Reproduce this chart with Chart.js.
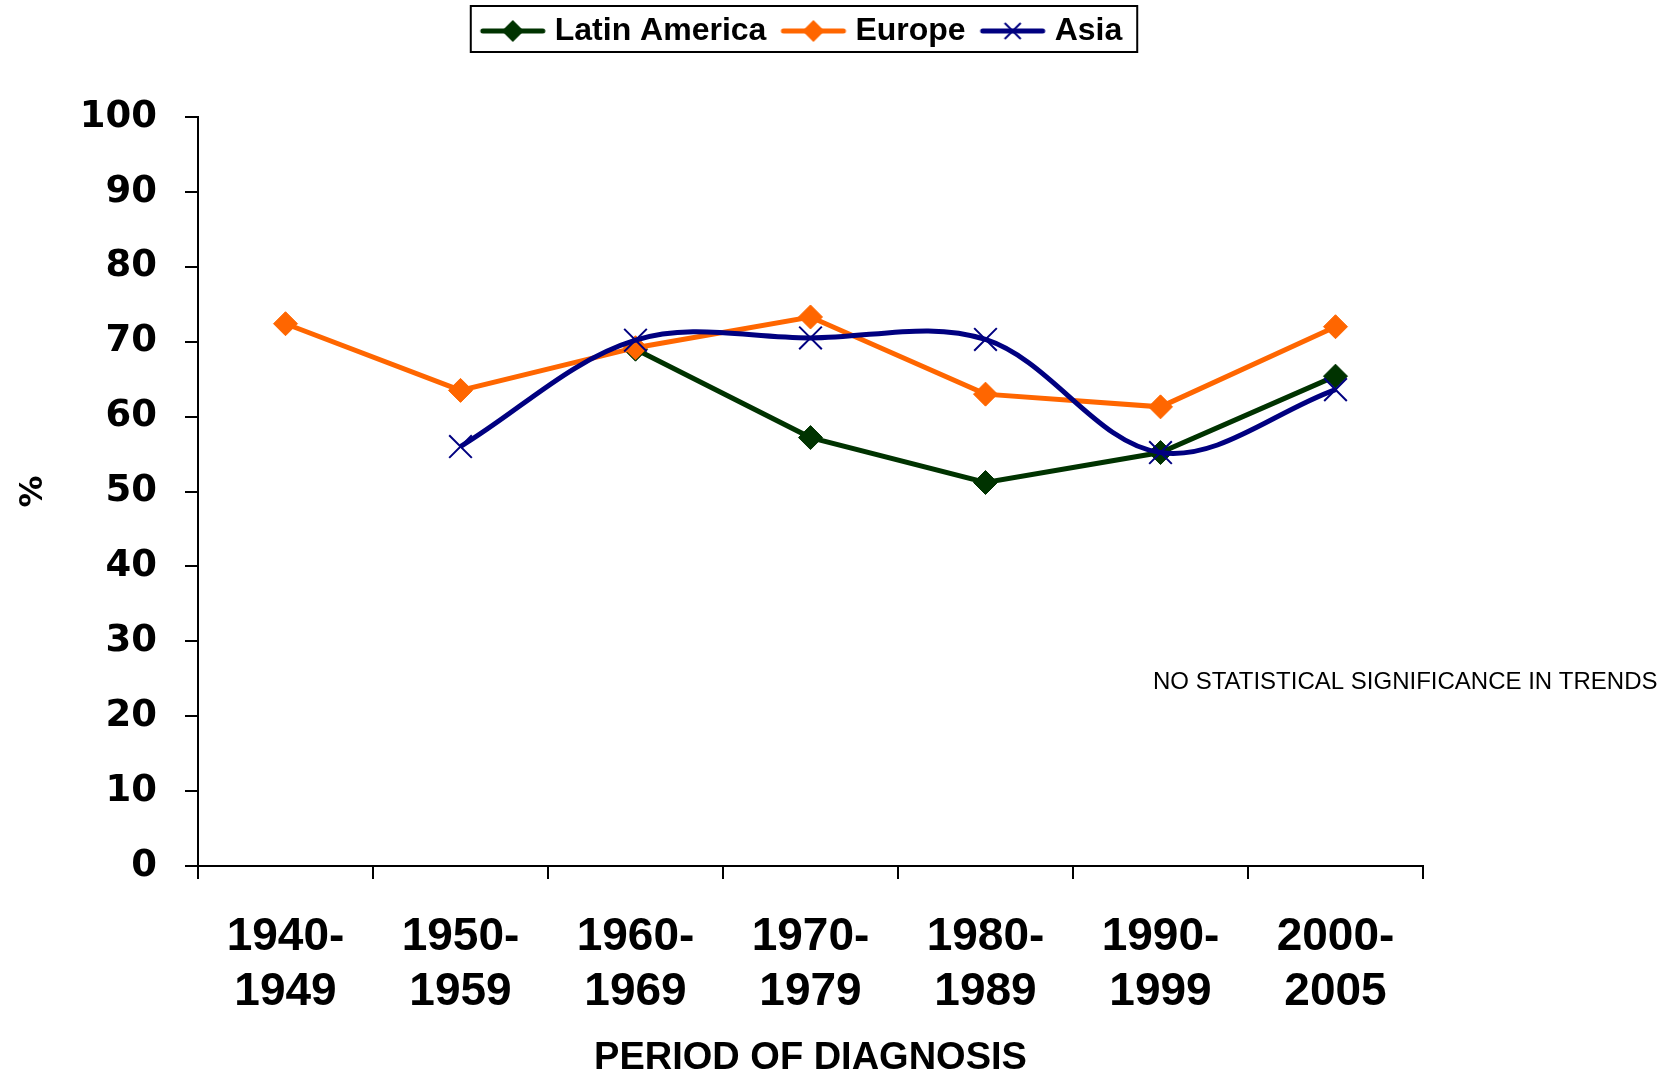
<!DOCTYPE html>
<html>
<head>
<meta charset="utf-8">
<script src="https://cdn.jsdelivr.net/npm/chart.js@4.4.1/dist/chart.umd.min.js"></script>
<style>
  html, body { margin: 0; padding: 0; background: #fff; }
  #wrap { width: 1678px; height: 1074px; }
</style>
</head>
<body>
<div id="wrap"><canvas id="chart" width="1678" height="1074"></canvas></div>
<script>
// values (% by period of diagnosis)
const periods = [
  ['1940-', '1949'], ['1950-', '1959'], ['1960-', '1969'], ['1970-', '1979'],
  ['1980-', '1989'], ['1990-', '1999'], ['2000-', '2005'],
];
const latinAmerica = [null, null, 69.0, 57.2, 51.2, 55.2, 65.4];
const europe = [72.4, 63.5, 69.2, 73.3, 63.0, 61.3, 72.0];
const asia = [null, 56.0, 70.2, 70.5, 70.3, 55.2, 63.6];
const seriesNames = ['Latin America', 'Europe', 'Asia'];
const yMin = 0;
const yMax = 100;
const yStep = 10;

const GREEN = '#003300';
const ORANGE = '#FF6600';
const NAVY = '#000080';
const WIDE = "'DejaVu Sans', Verdana, sans-serif";

Chart.defaults.font.family = "'Liberation Sans', Arial, sans-serif";
Chart.defaults.color = '#000';

// little line+marker pictures for the legend (line sits a bit right of centre
// so it ends close to the label text)
function legendSample(color, marker) {
  const c = document.createElement('canvas');
  c.width = 80;
  c.height = 26;
  const g = c.getContext('2d');
  const mid = 44;
  g.strokeStyle = color;
  g.lineWidth = 5;
  g.lineCap = 'round';
  g.beginPath();
  g.moveTo(14, 13);
  g.lineTo(74, 13);
  g.stroke();
  if (marker === 'diamond') {
    g.fillStyle = color;
    g.beginPath();
    g.moveTo(mid, 2);
    g.lineTo(mid + 11, 13);
    g.lineTo(mid, 24);
    g.lineTo(mid - 11, 13);
    g.closePath();
    g.fill();
  } else {
    g.lineWidth = 2;
    g.lineCap = 'butt';
    g.beginPath();
    g.moveTo(mid - 8, 5);
    g.lineTo(mid + 8, 21);
    g.moveTo(mid + 8, 5);
    g.lineTo(mid - 8, 21);
    g.stroke();
  }
  return c;
}
const samples = [
  legendSample(GREEN, 'diamond'),
  legendSample(ORANGE, 'diamond'),
  legendSample(NAVY, 'cross'),
];

const extras = {
  id: 'extras',
  afterLayout(chart) {
    // nudge the legend row a little left, as in the original
    chart.legend.left -= 10;
    chart.legend.right -= 10;
  },
  afterDraw(chart) {
    const ctx = chart.ctx;
    const boxes = chart.legend.legendHitBoxes;
    if (boxes && boxes.length) {
      const first = boxes[0];
      const last = boxes[boxes.length - 1];
      const left = first.left - 8;
      const right = last.left + last.width + 15;
      ctx.save();
      ctx.strokeStyle = '#000';
      ctx.lineWidth = 2;
      ctx.strokeRect(left, first.top - 9, right - left, first.height + 14);
      ctx.restore();
    }
    ctx.save();
    ctx.fillStyle = '#000';
    ctx.font = "24px 'Liberation Sans', Arial, sans-serif";
    ctx.textBaseline = 'middle';
    ctx.fillText('NO STATISTICAL SIGNIFICANCE IN TRENDS', 1153, 682);
    ctx.restore();
  },
};

const ctx = document.getElementById('chart').getContext('2d');

// eslint-disable-next-line no-unused-vars
const chart = new Chart(ctx, {
  type: 'line',
  data: {
    labels: periods,
    datasets: [
      {
        label: seriesNames[0],
        data: latinAmerica,
        borderColor: GREEN,
        backgroundColor: GREEN,
        borderWidth: 5,
        pointStyle: 'rectRot',
        pointRadius: 12,
        pointBorderWidth: 1,
        tension: 0,
        order: 3,
      },
      {
        label: seriesNames[1],
        data: europe,
        borderColor: ORANGE,
        backgroundColor: ORANGE,
        borderWidth: 5,
        pointStyle: 'rectRot',
        pointRadius: 12,
        pointBorderWidth: 1,
        tension: 0,
        order: 2,
      },
      {
        label: seriesNames[2],
        data: asia,
        borderColor: NAVY,
        backgroundColor: NAVY,
        borderWidth: 5,
        pointStyle: 'crossRot',
        pointRadius: 16,
        pointBorderWidth: 2,
        tension: 0.35,
        order: 1,
      },
    ],
  },
  options: {
    responsive: false,
    animation: false,
    spanGaps: true,
    layout: { padding: { top: 2, right: 255, left: 0, bottom: 0 } },
    plugins: {
      tooltip: { enabled: false },
      legend: {
        position: 'top',
        fullSize: false,
        labels: {
          usePointStyle: true,
          pointStyleWidth: 60,
          padding: 13,
          font: { size: 32, weight: 'bold', lineHeight: 1 },
          sort: (a, b) => a.datasetIndex - b.datasetIndex,
          generateLabels(chart) {
            const items = Chart.defaults.plugins.legend.labels.generateLabels(chart);
            items.forEach((it) => {
              it.pointStyle = samples[it.datasetIndex];
            });
            return items;
          },
        },
      },
      // empty spacer between legend and plot
      subtitle: {
        display: true,
        text: '',
        weight: 500,
        font: { size: 10, lineHeight: 1 },
        padding: { top: 0, bottom: 50 },
      },
    },
    scales: {
      x: {
        offset: true,
        afterFit(scale) {
          scale.height = 208;
        },
        grid: {
          offset: true,
          drawOnChartArea: false,
          drawTicks: true,
          tickLength: 13,
          color: '#000',
          lineWidth: 2,
        },
        border: { display: true, color: '#000', width: 2 },
        ticks: {
          maxRotation: 0,
          padding: 31,
          font: { size: 46, weight: 'bold' },
        },
        title: {
          display: true,
          text: 'PERIOD OF DIAGNOSIS',
          font: { size: 38, weight: 'bold', lineHeight: 0.8 },
          padding: 0,
        },
      },
      y: {
        min: yMin,
        max: yMax,
        afterFit(scale) {
          scale.width = 198;
        },
        grid: {
          drawOnChartArea: false,
          drawTicks: true,
          tickLength: 13,
          color: '#000',
          lineWidth: 2,
        },
        border: { display: true, color: '#000', width: 2 },
        ticks: {
          stepSize: yStep,
          padding: 28,
          font: { family: WIDE, size: 37, weight: 'bold' },
        },
        title: {
          display: true,
          text: '%',
          font: { family: WIDE, size: 32, weight: 'bold' },
          padding: { top: 14, bottom: 0 },
        },
      },
    },
  },
  plugins: [extras],
});
</script>
</body>
</html>
